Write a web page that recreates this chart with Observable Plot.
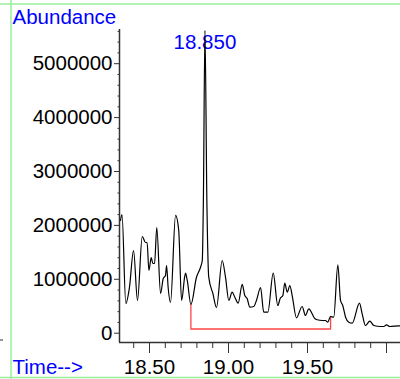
<!DOCTYPE html>
<html><head><meta charset="utf-8">
<script src="https://cdn.jsdelivr.net/npm/d3@7"></script>
<script src="https://cdn.jsdelivr.net/npm/@observablehq/plot@0.6"></script>
<style>html,body{margin:0;padding:0;background:#fff;} svg{display:block;}</style>
</head><body><div id="chart"></div>
<script>
// Retention time (min)
const times = [18.3165,18.326,18.350,18.373,18.399,18.424,18.454,18.475,18.485,18.496,18.511,18.521,18.532,18.546,18.570,18.587,18.601,18.608,18.618,18.633,18.665,18.685,18.703,18.723,18.728,18.739,18.762,18.797,18.823,18.834,18.841,18.851,18.863,18.875,18.901,18.924,18.960,18.981,19.002,19.023,19.040,19.061,19.087,19.103,19.118,19.135,19.160,19.177,19.203,19.223,19.249,19.283,19.312,19.327,19.344,19.356,19.372,19.388,19.403,19.430,19.466,19.487,19.508,19.546,19.561,19.593,19.614,19.628,19.646,19.666,19.692,19.709,19.723,19.741,19.761,19.783,19.829,19.846,19.867,19.894,19.920,19.962,19.983,20.000,20.021,20.078,20.089];
// Abundance
const abundance = [2091000,2202000,551000,848000,1534000,607000,1794000,1683000,1683000,1163000,1404000,1293000,1293000,1961000,737000,1015000,1071000,1256000,848000,570000,2184000,1905000,607000,1052000,1113000,978000,532000,1033000,1224000,1349000,2462000,5616000,2462000,1039000,737000,477000,1349000,1039000,607000,761000,668000,557000,904000,699000,644000,482000,495000,607000,848000,390000,390000,1113000,514000,644000,699000,928000,761000,885000,699000,286000,495000,329000,453000,273000,249000,236000,236000,204000,310000,297000,1269000,607000,514000,297000,204000,186000,557000,360000,143000,223000,143000,124000,124000,156000,124000,137000,134000];
// Integration baseline (red)
const baselineTimes = [18.762,18.762,19.646,19.646];
const baselineValues = [532000,78000,78000,310000];
// Peak annotation
const peakTime = 18.851;
const peakLabel = "18.850";
// Axis ticks
const yMajorTicks = [0,1000000,2000000,3000000,4000000,5000000];
const yTickLabels = ["0","1000000","2000000","3000000","4000000","5000000"];
const yMinorTicks = [200000,400000,600000,800000,1200000,1400000,1600000,1800000,2200000,2400000,2600000,2800000,3200000,3400000,3600000,3800000,4200000,4400000,4600000,4800000,5200000,5400000,5600000];
const xMajorTicks = [18.5,19.0,19.5,20.0];
const xTickLabels = ["18.50","19.00","19.50",""];
const xMinorTicks = [18.4,18.6,18.7,18.8,18.9,19.1,19.2,19.3,19.4,19.6,19.7,19.8,19.9];
const yTitle = "Abundance";
const xTitle = "Time-->";

const xDomain = [18.3101, 20.0886];
const yDomain = [-172500, 5634000];
const trace = times.map((t, i) => ({t, v: abundance[i]}));
const base = baselineTimes.map((t, i) => ({t, v: baselineValues[i]}));
const fs = 20.5;
const blue = "#0000ff";

const chart = Plot.plot({
  width: 400, height: 379,
  marginLeft: 119, marginRight: 0, marginTop: 29, marginBottom: 37,
  style: {fontFamily: "'Liberation Sans', Arial, sans-serif", fontSize: fs + "px", background: "white", color: "black"},
  x: {domain: xDomain},
  y: {domain: yDomain},
  marks: [
    Plot.axisY({ticks: yMajorTicks, tickSize: 5, tickPadding: 2, tickFormat: d => yTickLabels[yMajorTicks.indexOf(d)], label: null, stroke: "#333"}),
    Plot.axisY({ticks: yMinorTicks, tickSize: 1.5, tickFormat: () => "", label: null, stroke: "#333"}),
    Plot.axisX({ticks: xMajorTicks, tickSize: 11, tickPadding: 6, tickFormat: d => xTickLabels[xMajorTicks.indexOf(d)], label: null, stroke: "#333"}),
    Plot.axisX({ticks: xMinorTicks, tickSize: 6, tickFormat: () => "", label: null, stroke: "#333"}),
    Plot.ruleX([xDomain[0]], {stroke: "#333", strokeWidth: 1.5}),
    Plot.ruleY([yDomain[0]], {stroke: "#333", strokeWidth: 1.5}),
    Plot.text([{t: peakTime, label: peakLabel}], {x: "t", text: "label", frameAnchor: "top", dy: 19, lineAnchor: "bottom", fill: blue, fontSize: fs}),
    Plot.text([yTitle], {text: d => d, frameAnchor: "top-left", dx: -107, dy: -6, lineAnchor: "bottom", textAnchor: "start", fill: blue, fontSize: fs}),
    Plot.text([xTitle], {text: d => d, frameAnchor: "bottom-left", dx: -107, dy: 31, lineAnchor: "bottom", textAnchor: "start", fill: blue, fontSize: fs}),
    Plot.line(base, {x: "t", y: "v", stroke: "#ff4444", strokeWidth: 1.3}),
    Plot.line(trace, {x: "t", y: "v", stroke: "black", strokeWidth: 1.2, curve: "monotone-x"})
  ]
});
document.getElementById("chart").appendChild(chart);

// decorative page frame lines
const svg = d3.select(chart);
const g = svg.append("g").attr("stroke", "#99ee99").attr("stroke-width", 1.5);
g.append("line").attr("x1", 0).attr("x2", 400).attr("y1", 4).attr("y2", 4);
g.append("line").attr("x1", 11).attr("x2", 11).attr("y1", 0).attr("y2", 379);
g.append("line").attr("x1", 0).attr("x2", 400).attr("y1", 377.5).attr("y2", 377.5);
svg.append("line").attr("x1", 0).attr("x2", 3).attr("y1", 340).attr("y2", 340).attr("stroke", "#333");
</script>
</body></html>
